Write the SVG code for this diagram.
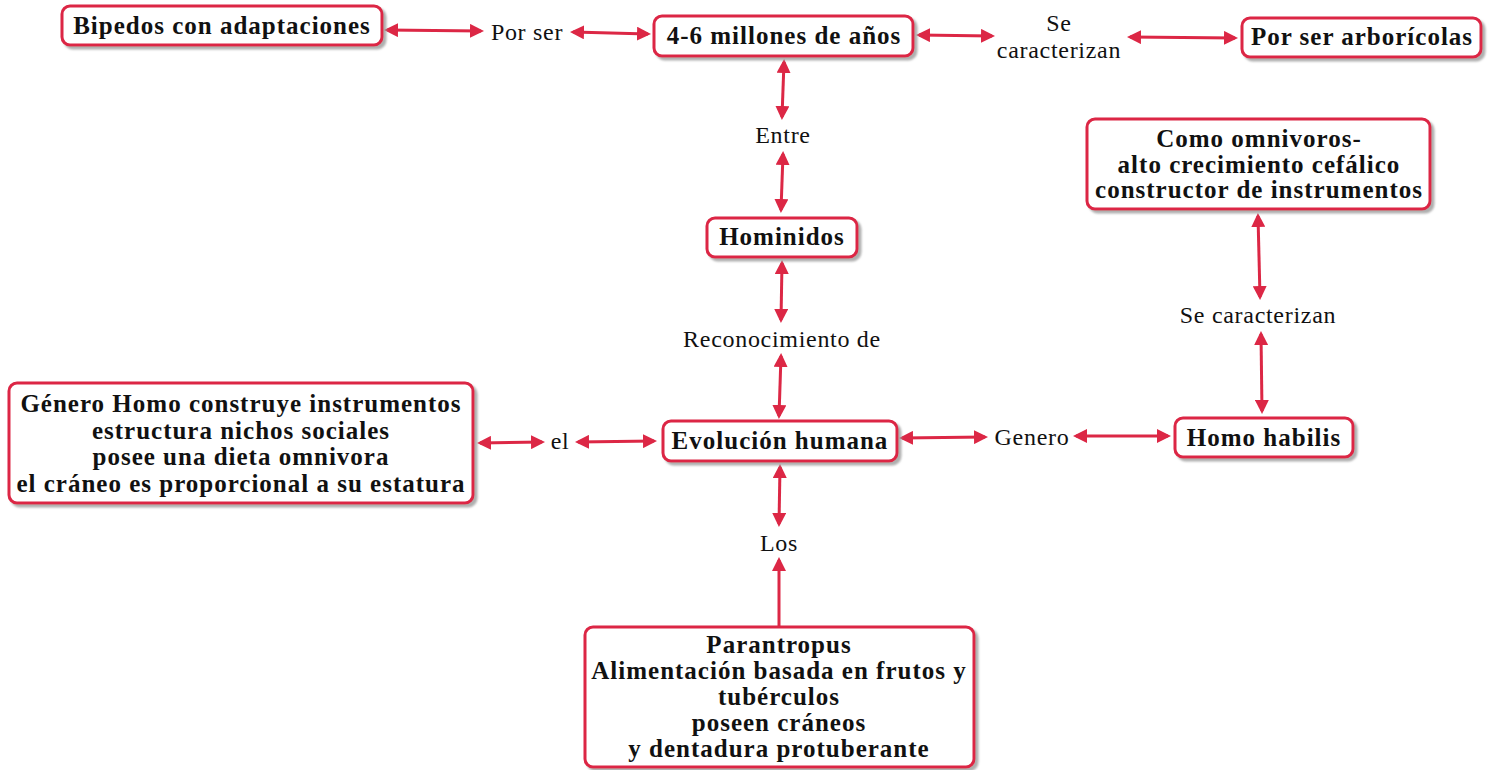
<svg xmlns="http://www.w3.org/2000/svg" width="1494" height="770" viewBox="0 0 1494 770">
<defs>
<style>
.box{fill:#fff;stroke:#dc2745;stroke-width:3;filter:url(#sh)}
.bt{font-family:"Liberation Serif","Times New Roman",serif;font-weight:bold;font-size:25px;letter-spacing:1px;fill:#111;text-anchor:middle}
.lt{font-family:"Liberation Serif","Times New Roman",serif;font-size:24px;letter-spacing:0.7px;fill:#111;text-anchor:middle}
.c{stroke:#dc2745;stroke-width:3;fill:none;marker-start:url(#ah);marker-end:url(#ah)}
.c1{stroke:#dc2745;stroke-width:3;fill:none;marker-end:url(#ah)}
</style>
<filter id="sh" x="-10%" y="-20%" width="120%" height="150%">
<feDropShadow dx="3" dy="3" stdDeviation="1.2" flood-color="#9a9a9a" flood-opacity="0.8"/>
</filter>
<marker id="ah" markerUnits="userSpaceOnUse" markerWidth="14" markerHeight="14" refX="11" refY="7" orient="auto-start-reverse" viewBox="0 0 14 14">
<path d="M0,0 L14,7 L0,14 z" fill="#dc2745"/>
</marker>
</defs>

<g id="connectors">
<line class="c" x1="387" y1="30" x2="481" y2="31"/>
<line class="c" x1="573" y1="32" x2="648" y2="34"/>
<line class="c" x1="919" y1="35" x2="992" y2="36"/>
<line class="c" x1="1130" y1="37" x2="1235" y2="38"/>
<line class="c" x1="784" y1="62" x2="782" y2="117"/>
<line class="c" x1="783" y1="154" x2="781" y2="210"/>
<line class="c" x1="782" y1="263" x2="781" y2="320"/>
<line class="c" x1="781" y1="356" x2="779" y2="416"/>
<line class="c" x1="480" y1="443" x2="542" y2="442"/>
<line class="c" x1="578" y1="442" x2="654" y2="441"/>
<line class="c" x1="902" y1="438" x2="985" y2="437"/>
<line class="c" x1="1076" y1="436" x2="1168" y2="436"/>
<line class="c" x1="1258" y1="216" x2="1260" y2="297"/>
<line class="c" x1="1261" y1="334" x2="1262" y2="411"/>
<line class="c" x1="780" y1="467" x2="779" y2="524"/>
<line class="c1" x1="779" y1="626" x2="779" y2="560"/>
</g>

<g id="n-bipedos">
<rect class="box" x="62" y="6" width="320" height="39" rx="8"/>
<text class="bt" x="222" y="34">Bipedos con adaptaciones</text>
</g>
<g id="n-millones">
<rect class="box" x="654" y="16" width="259" height="40" rx="8"/>
<text class="bt" x="784" y="44">4-6 millones de años</text>
</g>
<g id="n-arboricolas">
<rect class="box" x="1242" y="18" width="239" height="39" rx="8"/>
<text class="bt" x="1362" y="45">Por ser arborícolas</text>
</g>
<g id="n-omnivoros">
<rect class="box" x="1087" y="119" width="343" height="90" rx="8"/>
<text class="bt" x="1259" y="147">Como omnivoros-</text>
<text class="bt" x="1259" y="173">alto crecimiento cefálico</text>
<text class="bt" x="1259" y="198">constructor de instrumentos</text>
</g>
<g id="n-hominidos">
<rect class="box" x="707" y="218" width="150" height="39" rx="8"/>
<text class="bt" x="782" y="245">Hominidos</text>
</g>
<g id="n-genero-homo">
<rect class="box" x="9" y="383" width="464" height="120" rx="8"/>
<text class="bt" x="241" y="412">Género Homo construye instrumentos</text>
<text class="bt" x="241" y="439">estructura nichos sociales</text>
<text class="bt" x="241" y="465">posee una dieta omnivora</text>
<text class="bt" x="241" y="492">el cráneo es proporcional a su estatura</text>
</g>
<g id="n-evolucion">
<rect class="box" x="663" y="421" width="234" height="40" rx="8"/>
<text class="bt" x="780" y="449">Evolución humana</text>
</g>
<g id="n-habilis">
<rect class="box" x="1175" y="418" width="178" height="39" rx="8"/>
<text class="bt" x="1264" y="446">Homo habilis</text>
</g>
<g id="n-parantropus">
<rect class="box" x="585" y="627" width="389" height="140" rx="8"/>
<text class="bt" x="779" y="653">Parantropus</text>
<text class="bt" x="779" y="679">Alimentación basada en frutos y</text>
<text class="bt" x="779" y="705">tubérculos</text>
<text class="bt" x="779" y="731">poseen cráneos</text>
<text class="bt" x="779" y="757">y dentadura protuberante</text>
</g>

<g id="labels">
<text class="lt" x="527" y="40">Por ser</text>
<text class="lt" x="1059" y="31">Se</text>
<text class="lt" x="1059" y="58">caracterizan</text>
<text class="lt" x="783" y="143">Entre</text>
<text class="lt" x="782" y="347">Reconocimiento de</text>
<text class="lt" x="560" y="449">el</text>
<text class="lt" x="1032" y="445">Genero</text>
<text class="lt" x="1258" y="323">Se caracterizan</text>
<text class="lt" x="779" y="551">Los</text>
</g>
</svg>
